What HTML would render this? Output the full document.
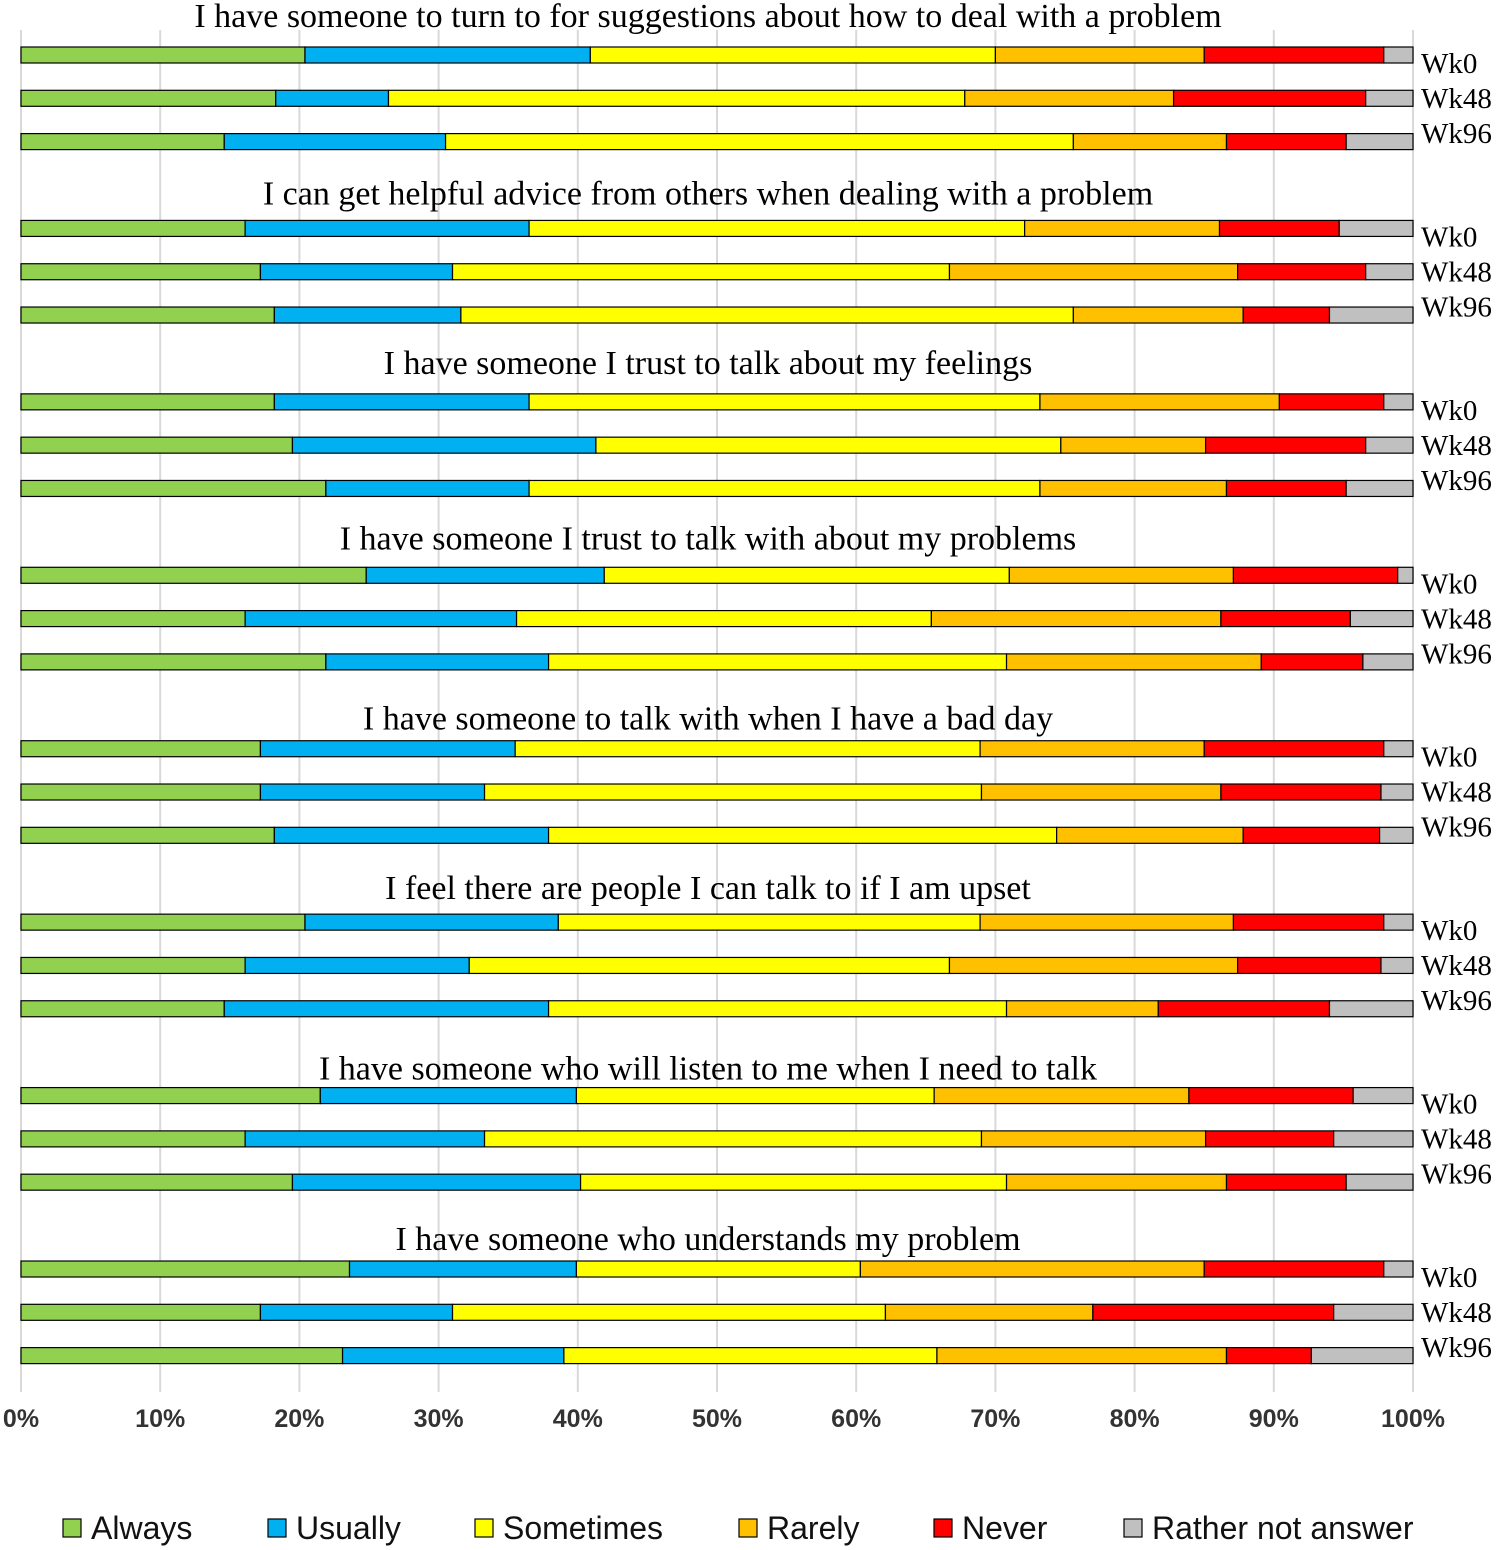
<!DOCTYPE html>
<html><head><meta charset="utf-8"><style>
html,body{margin:0;padding:0;background:#fff}
svg{display:block}
</style></head><body>
<svg id="chart" width="1499" height="1550" xmlns="http://www.w3.org/2000/svg"></svg>
<script>
const questions = [
 "I have someone to turn to for suggestions about how to deal with a problem",
 "I can get helpful advice from others when dealing with a problem",
 "I have someone I trust to talk about my feelings",
 "I have someone I trust to talk with about my problems",
 "I have someone to talk with when I have a bad day",
 "I feel there are people I can talk to if I am upset",
 "I have someone who will listen to me when I need to talk",
 "I have someone who understands my problem"
];
const weeks = ["Wk0","Wk48","Wk96"];
const categories = ["Always","Usually","Sometimes","Rarely","Never","Rather not answer"];
const colors = ["#92d050","#00b0f0","#ffff00","#ffc000","#ff0000","#c0c0c0"];
const values = [
 [[20.4,20.5,29.1,15.0,12.9,2.1],[18.3,8.1,41.4,15.0,13.8,3.4],[14.6,15.9,45.1,11.0,8.6,4.8]],
 [[16.1,20.4,35.6,14.0,8.6,5.3],[17.2,13.8,35.7,20.7,9.2,3.4],[18.2,13.4,44.0,12.2,6.2,6.0]],
 [[18.2,18.3,36.7,17.2,7.5,2.1],[19.5,21.8,33.4,10.4,11.5,3.4],[21.9,14.6,36.7,13.4,8.6,4.8]],
 [[24.8,17.1,29.1,16.1,11.8,1.1],[16.1,19.5,29.8,20.8,9.3,4.5],[21.9,16.0,32.9,18.3,7.3,3.6]],
 [[17.2,18.3,33.4,16.1,12.9,2.1],[17.2,16.1,35.7,17.2,11.5,2.3],[18.2,19.7,36.5,13.4,9.8,2.4]],
 [[20.4,18.2,30.3,18.2,10.8,2.1],[16.1,16.1,34.5,20.7,10.3,2.3],[14.6,23.3,32.9,10.9,12.3,6.0]],
 [[21.5,18.4,25.7,18.3,11.8,4.3],[16.1,17.2,35.7,16.1,9.2,5.7],[19.5,20.7,30.6,15.8,8.6,4.8]],
 [[23.6,16.3,20.4,24.7,12.9,2.1],[17.2,13.8,31.1,14.9,17.3,5.7],[23.1,15.9,26.8,20.8,6.1,7.3]]
];
const ticks = [0,10,20,30,40,50,60,70,80,90,100];

const svg = document.getElementById('chart');
const NS = "http://www.w3.org/2000/svg";
const x0 = 21, x1 = 1413;
const xs = p => x0 + (x1 - x0) * p / 100;
const groupY = g => 55 + g * 173.43;
const barY = (g, w) => groupY(g) + w * 43.3;
const barH = 16;
const titleShift = [0, 4, 0, 2, 9, 5, 12, 9];
function mk(tag, attrs, text){
  const e = document.createElementNS(NS, tag);
  for (const k in attrs) e.setAttribute(k, attrs[k]);
  if (text !== undefined) e.textContent = text;
  svg.appendChild(e); return e;
}
ticks.forEach(t => {
  const l = mk('line', {x1: xs(t), x2: xs(t), y1: 30, y2: 1392, stroke: '#d9d9d9', 'stroke-width': 2});
  
  
  const tx = mk('text', {x: xs(t), y: 1427, 'text-anchor': 'middle', 'font-family': 'Liberation Sans, sans-serif', 'font-size': 25, 'font-weight': 'bold', fill: '#333'}, t + '%');
  
  
});
questions.forEach((q, g) => {
  const t = mk('text', {x: 708, y: groupY(g) - 28 + titleShift[g], 'text-anchor': 'middle', 'font-family': 'Liberation Serif, serif', 'font-size': 34, fill: '#000'}, q);
  
  
  weeks.forEach((wk, w) => {
    const y = barY(g, w);
    let cum = 0;
    values[g][w].forEach((v, c) => {
      const r = mk('rect', {x: xs(cum), y: y - barH/2, width: xs(cum + v) - xs(cum), height: barH, fill: colors[c], stroke: '#000', 'stroke-width': 1.2});
      
      
      cum += v;
    });
    const lb = mk('text', {x: 1421, y: groupY(g) + 18 + w * 35, 'font-family': 'Liberation Serif, serif', 'font-size': 29, fill: '#000'}, wk);
    
    
  });
});
const legX = [63, 268, 475, 739, 934, 1124];
categories.forEach((c, i) => {
  const r = mk('rect', {x: legX[i], y: 1519, width: 18, height: 18, fill: colors[i], stroke: '#000', 'stroke-width': 1.2});
  
  
  const t = mk('text', {x: legX[i] + 28, y: 1539, 'font-family': 'Liberation Sans, sans-serif', 'font-size': 32, fill: '#111'}, c);
  
  
});
</script>
</body></html>
